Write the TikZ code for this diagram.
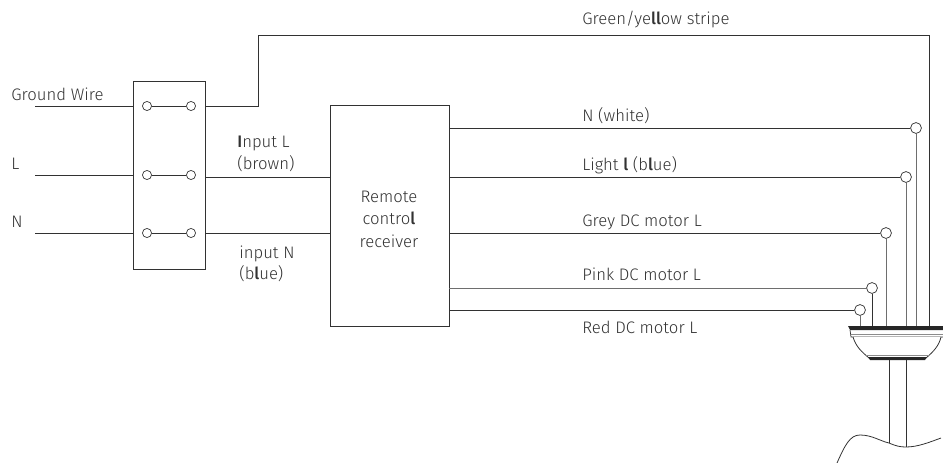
\documentclass[tikz,border=0pt]{standalone}
\usepackage{fontspec}
\setmainfont{Fira Sans Light}[BoldFont={Fira Sans Medium}]
\definecolor{wiredark}{RGB}{50,50,50}
\definecolor{wirepale}{RGB}{110,110,110}
\definecolor{labelgray}{RGB}{50,50,50}
\tikzset{
  wire/.style={line width=0.45pt, wiredark},
  term/.style={circle, draw=wiredark, line width=0.4pt, fill=white, inner sep=0pt, minimum size=5.2pt},
  tap/.style={circle, draw=wiredark, line width=0.4pt, fill=white, inner sep=0pt, minimum size=6.2pt},
  lbl/.style={anchor=base west, inner sep=0pt, text=labelgray, font=\fontsize{9.5}{10}\selectfont},
  boxnode/.style={draw=wiredark, line width=0.45pt, inner sep=0pt}
}
\newcommand{\hvy}[1]{\textbf{#1}}
\begin{document}
\begin{tikzpicture}[x=0.02cm, y=-0.02cm]
  \useasboundingbox (0,0) rectangle (943,463);
  % switch block and receiver
  \node[boxnode, minimum width=1.44cm, minimum height=3.76cm] (switchbox) at (169,175) {};
  \node[boxnode, minimum width=2.38cm, minimum height=4.42cm] (receiver) at (389.5,215.5) {};
  % free ends
  \coordinate (gin) at (35,106);
  \coordinate (lin) at (35,175);
  \coordinate (nin) at (35,233);
  \coordinate (gbend1) at (258,106);
  \coordinate (gbend2) at (258,35);
  \coordinate (gbend3) at (929,35);
  \coordinate (gend) at (929,326);
  % terminals
  \foreach \name/\y in {g/106, l/175, n/233} {
    \node[term] (\name a) at (147,\y) {};
    \node[term] (\name b) at (191,\y) {};
    \draw[wire] (\name a) -- (\name b);
  }
  \draw[wire] (gin) -- (gin -| switchbox.west);
  \draw[wire] (lin) -- (lin -| switchbox.west);
  \draw[wire] (nin) -- (nin -| switchbox.west);
  \draw[wire] (gb -| switchbox.east) -- (gbend1) -- (gbend2) -- (gbend3) -- (gend);
  \coordinate (lout) at (205,177);
  \draw[wire] (lout) -- (lout -| receiver.west);
  \draw[wire] (nb -| switchbox.east) -- (nb -| receiver.west);
  % outputs of the receiver
  \foreach \name/\x/\y/\hc/\vc in {white/916/128/wiredark/wirepale, light/906/177/wiredark/wirepale, grey/886/233/wiredark/wirepale, pink/872/288/wirepale/wiredark, red/860/310/wiredark/wirepale} {
    \node[tap] (\name) at (\x,\y) {};
    \coordinate (\name c) at (\x,326);
    \draw[wire, \hc] (\name -| receiver.east) -- (\name);
    \draw[wire, \vc] (\name) -- (\name c);
  }
  % ceiling canopy
  \fill[black!85] (848,326) -- (943,326) -- (943,330) -- (850,330) -- cycle;
  \draw[line width=0.4pt, wiredark] (850,330) -- (851,337) -- (943,337);
  \draw[line width=0.4pt, black!45] (851,334) -- (943,334);
  \draw[wire, fill=white] (853,337) .. controls (856,347) and (862,352) .. (869,358) -- (926,358) .. controls (933,352) and (939,346) .. (941,337);
  \draw[line width=0.4pt, black!45] (866,355) -- (929,355);
  \fill[black!85] (868,357) -- (927,357) -- (925,360) -- (870,360) -- cycle;
  \coordinate (stema) at (889,360);
  \coordinate (stemb) at (906,360);
  \coordinate (stemc) at (889,443);
  \coordinate (stemd) at (906,447);
  \draw[wire] (stema) -- (stemc);
  \draw[wire] (stemb) -- (stemd);
  \draw[wire] (837,463) .. controls (845,445) and (850,435) .. (860,435) .. controls (872,435) and (880,441) .. (889,443) .. controls (896,446) and (900,447) .. (906,447) .. controls (918,447) and (930,442) .. (941,438);
  % labels
  \node[lbl, anchor=base] (trem) at (389,202) {Remote};
  \node[lbl, anchor=base] (tcon) at (389,224) {contro\hvy{l}};
  \node[lbl, anchor=base] (trec) at (389,247) {receiver};
  \node[lbl] (tgw) at (11,100) {Ground Wire};
  \node[lbl] (tl) at (11,169) {L};
  \node[lbl] (tn) at (11,227) {N};
  \node[lbl] (tinl) at (237,147) {\hvy{I}nput L};
  \node[lbl] (tbrown) at (237,169) {(brown)};
  \node[lbl] (tinn) at (239,258) {input N};
  \node[lbl] (tblue) at (239,279) {(b\hvy{l}ue)};
  \node[lbl] (tgy) at (582,25) {Green/ye\hvy{ll}ow stripe};
  \node[lbl] (twhite) at (582,121) {N (white)};
  \node[lbl] (tlight) at (582,170) {Light \hvy{l} (b\hvy{l}ue)};
  \node[lbl] (tgrey) at (582,226) {Grey DC motor L};
  \node[lbl] (tpink) at (582,280) {Pink DC motor L};
  \node[lbl] (tred) at (582,333) {Red DC motor L};
\end{tikzpicture}
\end{document}
